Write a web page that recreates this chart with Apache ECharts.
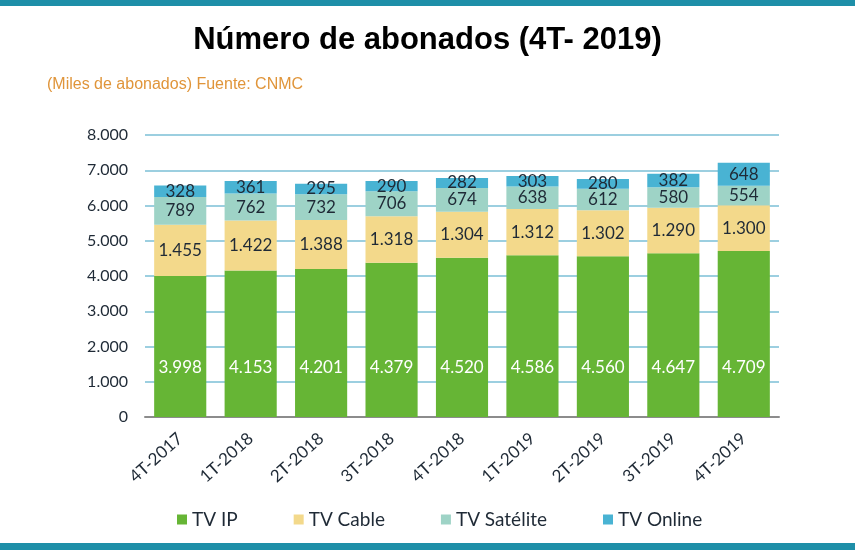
<!doctype html>
<html lang="es">
  <head>
    <meta charset="UTF-8" />
    <title>Número de abonados (4T- 2019)</title>
    <script src="https://cdn.jsdelivr.net/npm/echarts@6/dist/echarts.min.js"></script>
    <style>
      html, body { margin: 0; padding: 0; background: #fff; }
      #chart { width: 855px; height: 550px; }
    </style>
  </head>
  <body>
    <div id="chart"></div>
    <script>
      const quarters = ['4T-2017', '1T-2018', '2T-2018', '3T-2018', '4T-2018', '1T-2019', '2T-2019', '3T-2019', '4T-2019'];
      const tvIp = [3998, 4153, 4201, 4379, 4520, 4586, 4560, 4647, 4709];
      const tvCable = [1455, 1422, 1388, 1318, 1304, 1312, 1302, 1290, 1300];
      const tvSatelite = [789, 762, 732, 706, 674, 638, 612, 580, 554];
      const tvOnline = [328, 361, 295, 290, 282, 303, 280, 382, 648];
      const yTicks = [0, 1000, 2000, 3000, 4000, 5000, 6000, 7000, 8000];

      const fmt = (v) => v.toLocaleString('de-DE');
      const font = 'Lato, "Open Sans", sans-serif';

      function barSeries(name, data, color, label) {
        return {
          name: name,
          type: 'bar',
          stack: 'total',
          data: data,
          barWidth: '74%',
          itemStyle: { color: color },
          label: Object.assign({
            show: true,
            position: 'inside',
            fontFamily: font,
            fontSize: 17,
            color: '#1f2a36',
            formatter: (p) => fmt(p.value)
          }, label || {})
        };
      }

      const chart = echarts.init(document.getElementById('chart'));
      chart.setOption({
        animation: false,
        title: [
          {
            text: 'Número de abonados (4T- 2019)',
            left: 'center',
            top: 20,
            textStyle: { fontFamily: '"Liberation Sans", Arial, sans-serif', fontWeight: 'bold', fontSize: 31, color: '#000' }
          },
          {
            text: '(Miles de abonados) Fuente: CNMC',
            left: 42,
            top: 72,
            textStyle: { fontFamily: '"Liberation Sans", Arial, sans-serif', fontWeight: 'normal', fontSize: 16, color: '#e0953a' }
          }
        ],
        graphic: [
          { type: 'rect', left: 0, top: 0, shape: { width: 855, height: 6 }, style: { fill: '#1e8fa8' } },
          { type: 'rect', left: 0, bottom: 0, shape: { width: 855, height: 7 }, style: { fill: '#1e8fa8' } }
        ],
        grid: { left: 145, right: 76, top: 135, bottom: 133, containLabel: false },
        legend: {
          bottom: 16,
          left: 172,
          itemWidth: 10,
          itemHeight: 10,
          itemGap: 56,
          icon: 'rect',
          textStyle: { fontFamily: font, fontSize: 19, color: '#1f2a36' }
        },
        xAxis: {
          type: 'category',
          data: quarters,
          axisLine: { lineStyle: { color: '#8c8c8c', width: 2 } },
          axisTick: { show: false },
          axisLabel: { rotate: 42, fontFamily: font, fontSize: 17, color: '#1f2a36', margin: 19 }
        },
        yAxis: {
          type: 'value',
          min: yTicks[0],
          max: yTicks[yTicks.length - 1],
          interval: 1000,
          axisLine: { show: false },
          axisTick: { show: false },
          splitLine: { lineStyle: { color: '#9ccfe0', width: 2 } },
          axisLabel: { fontFamily: font, fontSize: 16, color: '#1f2a36', margin: 17, formatter: (v) => fmt(v) }
        },
        series: [
          barSeries('TV IP', tvIp, '#66b535', { position: 'insideBottom', distance: 41, color: '#ffffff' }),
          barSeries('TV Cable', tvCable, '#f3d98b'),
          barSeries('TV Satélite', tvSatelite, '#9ed3c6'),
          barSeries('TV Online', tvOnline, '#49b3d3')
        ]
      });
    </script>
  </body>
</html>
